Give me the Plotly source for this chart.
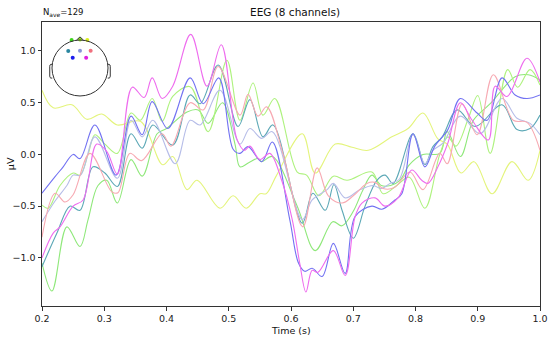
import plotly.graph_objects as go

# ---------------- data ----------------
channels = ["Fp1", "Fpz", "Fp2", "F3", "Fz", "F4", "C3", "C4"]

t_fp1 = [0.200,0.216,0.240,0.261,0.274,0.290,0.304,0.321,0.343,0.361,0.385,0.400,0.433,0.451,0.467,0.490,0.510,0.518,0.532,0.547,0.553,0.570,0.610,0.639,0.667,0.682,0.700,0.715,0.730,0.745,0.760,0.775,0.790,0.812,0.839,0.851,0.872,0.893,0.920,0.960,0.981,1.000]
v_fp1 = [-1.05,-1.32,-0.70,-0.89,-0.63,-0.30,-0.25,-0.47,-0.05,-0.21,0.20,0.25,0.41,0.43,0.30,0.50,0.10,-0.12,-0.08,-0.04,-0.07,-0.02,-0.50,-0.93,-0.65,-0.69,-0.55,-0.35,-0.20,-0.30,-0.30,-0.25,-0.10,0.00,0.01,0.22,-0.02,0.33,0.49,0.75,0.77,0.72]

t_fpz = [0.200,0.210,0.229,0.250,0.261,0.274,0.285,0.301,0.321,0.343,0.358,0.377,0.393,0.410,0.438,0.467,0.497,0.518,0.539,0.555,0.574,0.610,0.625,0.645,0.668,0.690,0.730,0.748,0.770,0.790,0.815,0.839,0.852,0.865,0.885,0.900,0.920,0.948,0.964,0.984,1.000]
v_fpz = [-0.49,-0.52,-0.30,-0.18,-0.20,0.00,0.19,0.10,0.01,0.40,0.33,0.54,0.32,0.56,0.655,0.22,0.91,0.33,0.69,0.38,0.54,-0.17,-0.20,-0.40,-0.21,-0.25,-0.17,-0.38,-0.30,-0.22,-0.52,0.00,0.17,0.08,0.35,0.57,0.01,0.82,0.65,0.82,0.67]

t_fp2 = [0.200,0.218,0.248,0.272,0.296,0.321,0.358,0.394,0.410,0.433,0.449,0.486,0.507,0.528,0.550,0.560,0.577,0.618,0.639,0.671,0.698,0.724,0.762,0.788,0.812,0.836,0.851,0.873,0.894,0.923,0.955,0.981,1.000]
v_fp2 = [0.62,0.45,0.48,0.34,0.39,0.285,0.32,-0.10,-0.02,-0.34,-0.25,-0.52,-0.40,-0.52,-0.38,-0.38,-0.20,0.20,-0.18,0.10,0.07,0.04,0.17,0.25,0.40,0.15,0.10,-0.18,-0.07,-0.38,-0.07,-0.25,0.04]

t_f3 = [0.200,0.224,0.245,0.261,0.282,0.301,0.321,0.343,0.361,0.378,0.410,0.438,0.454,0.483,0.515,0.534,0.555,0.571,0.618,0.635,0.655,0.669,0.682,0.700,0.719,0.738,0.751,0.764,0.796,0.815,0.828,0.843,0.867,0.896,0.939,0.963,0.984,1.000]
v_f3 = [-1.085,-0.76,-0.50,-0.54,-0.12,-0.18,-0.31,0.20,0.06,0.285,0.09,0.575,0.49,0.865,0.27,0.53,0.17,0.285,-0.665,-0.375,-0.54,-0.29,-0.54,-0.81,-0.50,-0.25,-0.20,-0.28,0.20,-0.10,0.075,0.17,0.43,0.27,0.48,0.24,0.25,0.38]

t_fz = [0.200,0.221,0.240,0.250,0.262,0.285,0.321,0.343,0.361,0.378,0.414,0.438,0.454,0.486,0.518,0.534,0.553,0.570,0.618,0.634,0.658,0.668,0.687,0.711,0.732,0.745,0.759,0.774,0.796,0.815,0.828,0.844,0.872,0.904,0.939,0.963,0.984,1.000]
v_fz = [-0.65,-0.45,-0.30,-0.20,-0.20,0.17,-0.23,0.33,0.17,0.33,-0.09,0.33,0.285,0.62,0.10,0.25,0.155,0.22,-0.63,-0.44,-0.34,-0.28,-0.42,-0.34,-0.30,-0.33,-0.28,-0.24,0.19,-0.09,0.04,0.11,0.37,0.20,0.54,0.35,0.30,0.19]

t_f4 = [0.200,0.221,0.237,0.250,0.277,0.312,0.322,0.341,0.360,0.393,0.407,0.438,0.459,0.483,0.518,0.531,0.547,0.561,0.587,0.619,0.642,0.660,0.682,0.700,0.722,0.735,0.748,0.766,0.791,0.812,0.839,0.851,0.875,0.899,0.925,0.957,0.979,1.000]
v_f4 = [-0.80,-0.375,-0.46,-0.39,0.01,-0.36,-0.37,0.01,-0.06,0.20,0.08,0.50,0.43,0.85,0.38,0.58,0.37,0.46,0.01,-0.70,-0.13,-0.40,-0.47,-0.40,-0.28,-0.27,-0.33,-0.32,-0.17,-0.34,0.01,-0.09,0.49,0.19,0.77,0.33,0.31,0.04]

t_c3 = [0.200,0.221,0.234,0.250,0.261,0.285,0.319,0.343,0.361,0.377,0.402,0.438,0.459,0.484,0.507,0.518,0.531,0.553,0.570,0.598,0.612,0.622,0.634,0.650,0.668,0.687,0.703,0.730,0.746,0.767,0.778,0.796,0.815,0.831,0.852,0.872,0.899,0.915,0.939,0.960,0.979,1.000]
v_c3 = [-0.375,-0.215,-0.12,0.00,-0.04,0.285,-0.20,0.37,0.19,0.51,0.25,0.74,0.49,0.74,0.05,0.01,0.075,-0.07,0.12,-0.63,-1.05,-1.13,-1.10,-1.18,-0.86,-1.15,-0.60,-0.50,-0.53,-0.44,-0.38,0.20,-0.12,0.08,0.24,0.54,0.40,0.33,0.74,0.575,0.54,0.575]

t_c4 = [0.200,0.218,0.229,0.250,0.266,0.288,0.304,0.321,0.345,0.364,0.377,0.393,0.410,0.439,0.465,0.488,0.513,0.525,0.534,0.550,0.566,0.585,0.602,0.614,0.624,0.634,0.643,0.668,0.687,0.703,0.714,0.735,0.751,0.772,0.794,0.810,0.820,0.836,0.852,0.872,0.891,0.917,0.928,0.947,0.979,1.000]
v_c4 = [-1.00,-0.76,-0.70,-0.50,-0.44,0.10,0.03,-0.19,0.65,0.55,0.74,0.54,0.66,1.16,0.66,1.06,0.15,0.04,0.08,-0.05,0.01,-0.25,-0.63,-1.05,-1.33,-1.12,-1.14,-0.93,-1.17,-0.60,-0.47,-0.42,-0.50,-0.42,-0.15,-0.25,-0.28,-0.12,0.11,0.50,0.33,0.14,0.66,0.56,0.93,0.70]

line_colors = ["#8fe87a", "#aef27e", "#e4f47c", "#5ca8b6", "#b6bde8", "#f7a9b2", "#7272f2", "#ee6cee"]
dot_colors = ["#3ed61c", "#98e21e", "#dcef1e", "#2a86a0", "#8894d8", "#f0707e", "#1c1cee", "#e020e0"]

# sensor layout in the head inset (head radius = 1)
sensor_x = [-0.30, 0.00, 0.26, -0.42, 0.00, 0.38, -0.26, 0.22]
sensor_y = [1.00, 1.02, 1.00, 0.61, 0.62, 0.62, 0.37, 0.37]

series = [(t_fp1, v_fp1), (t_fpz, v_fpz), (t_fp2, v_fp2), (t_f3, v_f3),
          (t_fz, v_fz), (t_f4, v_f4), (t_c3, v_c3), (t_c4, v_c4)]

x_ticks = [0.2, 0.3, 0.4, 0.5, 0.6, 0.7, 0.8, 0.9, 1.0]
y_ticks = [-1.0, -0.5, 0.0, 0.5, 1.0]

# ---------------- figure ----------------
fig = go.Figure()
for name, (t, v), c in zip(channels, series, line_colors):
    fig.add_trace(go.Scatter(x=t, y=v, mode="lines", name=name,
                             line=dict(color=c, width=1.1, shape="spline", smoothing=1.0),
                             showlegend=False, hoverinfo="skip"))

fig.add_trace(go.Scatter(x=sensor_x, y=sensor_y, mode="markers", xaxis="x2", yaxis="y2",
                         marker=dict(color=dot_colors, size=4), showlegend=False,
                         hoverinfo="skip"))

font = "DejaVu Sans, Arial, sans-serif"
axis_common = dict(showgrid=False, zeroline=False, showline=True, linecolor="#333333",
                   linewidth=1, mirror=True, ticks="outside", ticklen=3.5, tickwidth=1,
                   tickcolor="#333333", automargin=False,
                   tickfont=dict(family=font, size=9.5, color="#222222"))

head_shapes = [
    dict(type="circle", xref="x2", yref="y2", x0=-1, y0=-1, x1=1, y1=1,
         line=dict(color="#333333", width=1)),
    dict(type="path", xref="x2", yref="y2", path="M -0.13 0.99 L 0 1.11 L 0.13 0.99",
         line=dict(color="#333333", width=1)),
    dict(type="path", xref="x2", yref="y2",
         path="M -0.99 0.13 L -1.04 0.13 Q -1.08 0.12 -1.08 0.06 L -1.08 -0.29 Q -1.08 -0.35 -1.04 -0.36 L -0.99 -0.36",
         line=dict(color="#333333", width=1)),
    dict(type="path", xref="x2", yref="y2",
         path="M 0.99 0.13 L 1.04 0.13 Q 1.08 0.12 1.08 0.06 L 1.08 -0.29 Q 1.08 -0.35 1.04 -0.36 L 0.99 -0.36",
         line=dict(color="#333333", width=1)),
]

fig.update_layout(
    width=550, height=340,
    margin=dict(l=42, r=10, t=22, b=34),
    paper_bgcolor="white", plot_bgcolor="white",
    font=dict(family=font, size=9.5, color="#222222"),
    xaxis=dict(range=[0.2, 1.0], tickvals=x_ticks, tickformat=".1f", **axis_common),
    yaxis=dict(range=[-1.465, 1.28], tickvals=y_ticks, tickformat=".1f", **axis_common),
    xaxis2=dict(domain=[0.012, 0.1406], range=[-1.143, 1.143], visible=False, anchor="y2"),
    yaxis2=dict(domain=[0.7254, 0.9507], range=[-1.143, 1.143], visible=False, anchor="x2"),
    shapes=head_shapes,
    annotations=[
        dict(text="EEG (8 channels)", xref="paper", yref="paper", x=0.508, y=1.035,
             xanchor="center", yanchor="middle", showarrow=False,
             font=dict(family=font, size=10.5, color="#111111")),
        dict(text="N<sub>ave</sub>=129", xref="paper", yref="paper", x=-0.002, y=1.035,
             xanchor="left", yanchor="middle", showarrow=False,
             font=dict(family=font, size=8.5, color="#111111")),
        dict(text="Time (s)", xref="paper", yref="paper", x=0.5, y=-0.086,
             xanchor="center", yanchor="middle", showarrow=False,
             font=dict(family=font, size=9.5, color="#111111")),
        dict(text="µV", xref="paper", yref="paper", x=-0.064, y=0.5, textangle=-90,
             xanchor="center", yanchor="middle", showarrow=False,
             font=dict(family=font, size=9.5, color="#111111")),
    ],
)

fig.write_html("out.html", config={"displayModeBar": False},
               post_script="document.body.style.margin='0';document.body.style.padding='0';")
